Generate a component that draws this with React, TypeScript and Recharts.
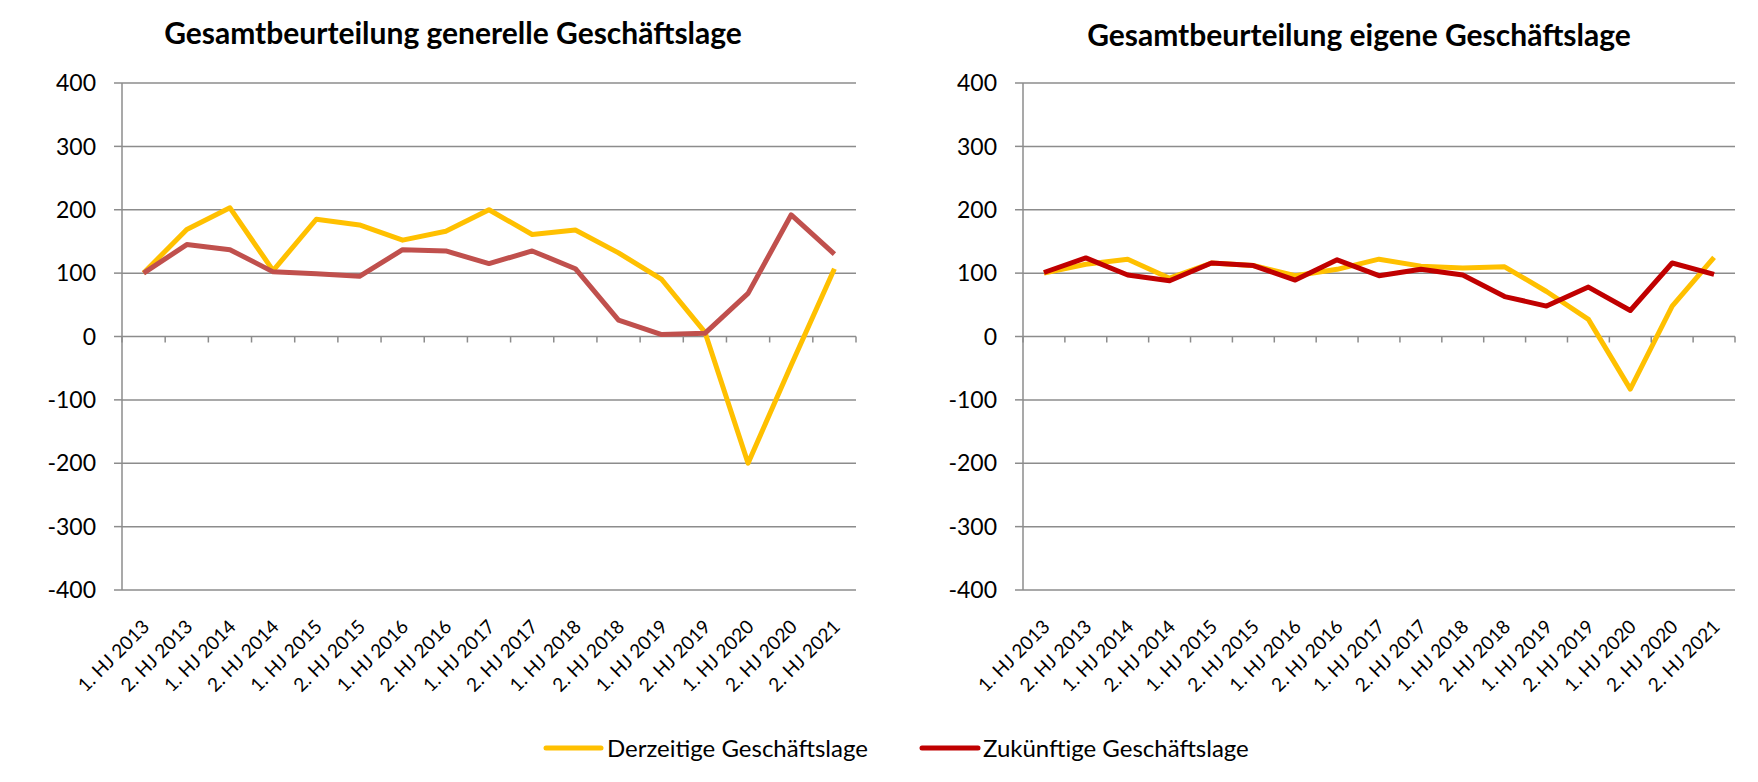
import React from "react";
import { CartesianGrid, Line, LineChart, XAxis, YAxis } from "recharts";

const periods = [
  "1. HJ 2013", "2. HJ 2013", "1. HJ 2014", "2. HJ 2014", "1. HJ 2015",
  "2. HJ 2015", "1. HJ 2016", "2. HJ 2016", "1. HJ 2017", "2. HJ 2017",
  "1. HJ 2018", "2. HJ 2018", "1. HJ 2019", "2. HJ 2019", "1. HJ 2020",
  "2. HJ 2020", "2. HJ 2021",
];

// generelle Geschäftslage
const generalCurrent = [100, 169, 203, 104, 185, 176, 152, 166, 200, 161, 168, 132, 90, 7, -200, -45, 107];
const generalFuture = [100, 145, 137, 102, 99, 95, 137, 135, 115, 135, 107, 26, 3, 5, 68, 192, 130];

// eigene Geschäftslage
const ownCurrent = [100, 114, 122, 92, 116, 112, 96, 106, 122, 111, 108, 110, 71, 27, -83, 48, 125];
const ownFuture = [101, 124, 97, 88, 116, 112, 89, 121, 96, 106, 97, 63, 48, 78, 41, 116, 98];

const yTicks = [-400, -300, -200, -100, 0, 100, 200, 300, 400];

const FONT = "Lato, 'Open Sans', sans-serif";
const GRID = "#8c8c8c";
const YELLOW = "#FFC000";

const H = 782;
const PLOT_TOP = 83;
const PLOT_BOTTOM = 590;
const Y_AXIS_W = 60;

const toRows = (current: number[], future: number[]) =>
  periods.map((p, i) => ({ period: p, current: current[i], future: future[i] }));

const XTick = (props: any) => {
  const { x, y, payload, index, step, zeroY, last } = props;
  const lx = x + 7;
  const ly = y + 38;
  return (
    <g>
      <line x1={x - step / 2} x2={x - step / 2} y1={zeroY} y2={zeroY + 6} stroke={GRID} strokeWidth={1.5} />
      {index === last && (
        <line x1={x + step / 2} x2={x + step / 2} y1={zeroY} y2={zeroY + 6} stroke={GRID} strokeWidth={1.5} />
      )}
      <text
        x={lx}
        y={ly}
        transform={`rotate(-45, ${lx}, ${ly})`}
        textAnchor="end"
        fontSize={19}
        fontFamily={FONT}
        fill="#000"
      >
        {payload.value}
      </text>
    </g>
  );
};

const Panel = ({
  left,
  width,
  plotLeft,
  plotRight,
  current,
  future,
  futureColor,
}: {
  left: number;
  width: number;
  plotLeft: number;
  plotRight: number;
  current: number[];
  future: number[];
  futureColor: string;
}) => {
  const pw = plotRight - plotLeft;
  const step = pw / periods.length;
  const zeroY = PLOT_TOP + (PLOT_BOTTOM - PLOT_TOP) / 2;
  return (
    <div style={{ position: "absolute", left, top: 0 }}>
      <LineChart
        width={width}
        height={H}
        data={toRows(current, future)}
        margin={{ top: PLOT_TOP, right: left + width - plotRight, bottom: 0, left: plotLeft - left - Y_AXIS_W }}
      >
        <CartesianGrid vertical={false} stroke={GRID} strokeWidth={1.5} />
        <XAxis
          dataKey="period"
          height={H - PLOT_BOTTOM}
          interval={0}
          axisLine={false}
          tickLine={false}
          tickSize={0}
          tickMargin={0}
          padding={{ left: step / 2, right: step / 2 }}
          tick={(p: any) => (
            <XTick {...p} step={step} zeroY={zeroY} last={periods.length - 1} />
          )}
        />
        <YAxis
          type="number"
          domain={[-400, 400]}
          ticks={yTicks}
          width={Y_AXIS_W}
          tickSize={8}
          tickMargin={18}
          axisLine={{ stroke: GRID, strokeWidth: 1.5 }}
          tickLine={{ stroke: GRID, strokeWidth: 1.5 }}
          tick={{ fill: "#000", fontSize: 23, fontFamily: FONT }}
        />
        <Line
          dataKey="current"
          type="linear"
          stroke={YELLOW}
          strokeWidth={5}
          dot={false}
          strokeLinejoin="round"
          isAnimationActive={false}
        />
        <Line
          dataKey="future"
          type="linear"
          stroke={futureColor}
          strokeWidth={5}
          dot={false}
          strokeLinejoin="round"
          isAnimationActive={false}
        />
      </LineChart>
    </div>
  );
};

export default function App() {
  return (
    <div style={{ position: "absolute", left: 0, top: 0, width: 1758, height: H, background: "#fff" }}>
      <Panel
        left={0}
        width={906}
        plotLeft={122}
        plotRight={856}
        current={generalCurrent}
        future={generalFuture}
        futureColor="#C0504D"
      />
      <Panel
        left={906}
        width={852}
        plotLeft={1023}
        plotRight={1735}
        current={ownCurrent}
        future={ownFuture}
        futureColor="#C00000"
      />
      <svg
        width={1758}
        height={H}
        style={{ position: "absolute", left: 0, top: 0, pointerEvents: "none" }}
      >
        <text x={453} y={44} textAnchor="middle" fontSize={30} fontWeight={700} fontFamily={FONT} fill="#000">
          Gesamtbeurteilung generelle Geschäftslage
        </text>
        <text x={1359} y={46} textAnchor="middle" fontSize={30} fontWeight={700} fontFamily={FONT} fill="#000">
          Gesamtbeurteilung eigene Geschäftslage
        </text>
        <line x1={546} x2={601} y1={748} y2={748} stroke={YELLOW} strokeWidth={5} strokeLinecap="round" />
        <text x={607} y={757} fontSize={24} fontFamily={FONT} fill="#000">
          Derzeitige Geschäftslage
        </text>
        <line x1={922} x2={978} y1={748} y2={748} stroke="#C00000" strokeWidth={5} strokeLinecap="round" />
        <text x={983} y={757} fontSize={24} fontFamily={FONT} fill="#000">
          Zukünftige Geschäftslage
        </text>
      </svg>
    </div>
  );
}
